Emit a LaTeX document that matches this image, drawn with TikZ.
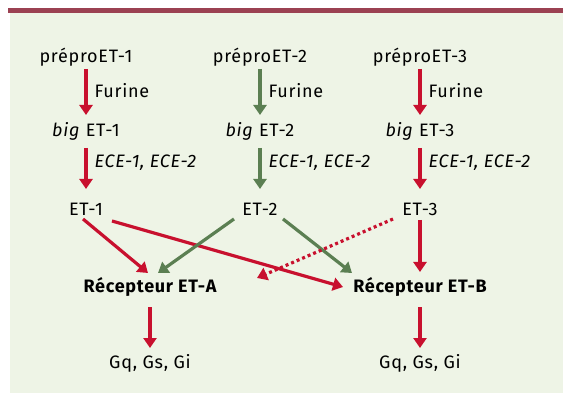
\documentclass[tikz,border=0pt]{standalone}
\usepackage{fontspec}
\setmainfont[LetterSpace=4]{Fira Sans}
\usetikzlibrary{arrows.meta}
\definecolor{etred}{HTML}{C8102E}
\definecolor{etgreen}{HTML}{5B7F52}
\definecolor{etbg}{HTML}{EEF4E6}
\definecolor{etbar}{HTML}{9B4152}
\tikzset{
  lbl/.style={inner sep=0pt, font=\fontsize{18}{20}\selectfont},
  redarr/.style={etred, line width=3.2pt, -{Triangle[width=13pt,length=10pt]}},
  greenarr/.style={etgreen, line width=3.2pt, -{Triangle[width=13pt,length=10pt]}},
}
\begin{document}
\begin{tikzpicture}[x=1pt,y=-1pt]
\useasboundingbox (0,0) rectangle (563,393);
\fill[etbg] (10,8) rectangle (563,393);
\fill[etbar] (8,8) rectangle (563,13);
% precursors
\node[lbl] (p1) at (86,57) {préproET-1};
\node[lbl] (p2) at (260,57) {préproET-2};
\node[lbl] (p3) at (420,57) {préproET-3};
\node[lbl] (b1) at (86,131) {\textit{big} ET-1};
\node[lbl] (b2) at (260,131) {\textit{big} ET-2};
\node[lbl] (b3) at (420,131) {\textit{big} ET-3};
\node[lbl] (e1) at (86,209) {ET-1};
\node[lbl] (e2) at (260,209) {ET-2};
\node[lbl] (e3) at (420,209) {ET-3};
% receptors
\node[lbl,font=\fontsize{18}{20}\selectfont\bfseries] (ra) at (150,287) {Récepteur ET-A};
\node[lbl,font=\fontsize{18}{20}\selectfont\bfseries] (rb) at (420,287) {Récepteur ET-B};
\node[lbl] (ga) at (150,363) {Gq, Gs, Gi};
\node[lbl] (gb) at (420,363) {Gq, Gs, Gi};
\coordinate (dotend) at (257,278);
% cleavage
\draw[redarr, shorten <=12pt, shorten >=16pt] (p1.center) -- node[lbl,right=7pt,pos=0.45,black]{Furine} (b1.center);
\draw[greenarr, shorten <=12pt, shorten >=16pt] (p2.center) -- node[lbl,right=7pt,pos=0.45,black]{Furine} (b2.center);
\draw[redarr, shorten <=12pt, shorten >=16pt] (p3.center) -- node[lbl,right=7pt,pos=0.45,black]{Furine} (b3.center);
\draw[redarr, shorten <=17pt, shorten >=20pt] (b1.center) -- node[lbl,right=7pt,pos=0.4,black]{\textit{ECE-1, ECE-2}} (e1.center);
\draw[greenarr, shorten <=17pt, shorten >=20pt] (b2.center) -- node[lbl,right=7pt,pos=0.4,black]{\textit{ECE-1, ECE-2}} (e2.center);
\draw[redarr, shorten <=17pt, shorten >=20pt] (b3.center) -- node[lbl,right=7pt,pos=0.4,black]{\textit{ECE-1, ECE-2}} (e3.center);
% binding
\draw[redarr] ([shift={(-3,10)}]e1.center) -- ([shift={(-2,-14)}]ra.center);
\draw[redarr] ([shift={(26,12)}]e1.center) -- ([shift={(-77,0)}]rb.center);
\draw[greenarr] ([shift={(-26,10)}]e2.center) -- ([shift={(8,-14)}]ra.center);
\draw[greenarr] ([shift={(23,10)}]e2.center) -- ([shift={(-68,-14)}]rb.center);
\draw[redarr, dash pattern=on 3pt off 3pt] ([shift={(-27,10)}]e3.center) -- (dotend);
\draw[redarr, shorten <=11pt, shorten >=15pt] (e3.center) -- (rb.center);
% signalling
\draw[redarr, shorten <=20pt, shorten >=15pt] (ra.center) -- (ga.center);
\draw[redarr, shorten <=20pt, shorten >=15pt] (rb.center) -- (gb.center);
\end{tikzpicture}
\end{document}
